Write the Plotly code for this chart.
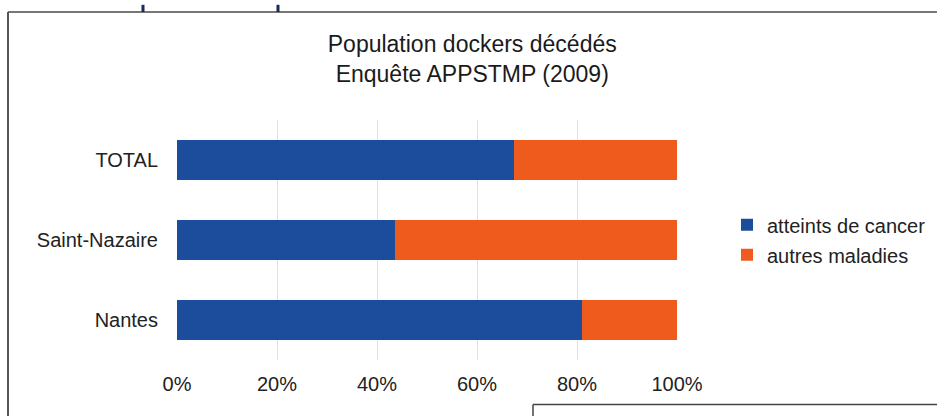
import plotly.graph_objects as go

# Share of deceased dockers by cause, per site (percent)
categories = ["Nantes", "Saint-Nazaire", "TOTAL"]
cancer = [81, 43.6, 67.4]
autres = [19, 56.4, 32.6]
series_names = ["atteints de cancer", "autres maladies"]
tick_vals = [0, 20, 40, 60, 80, 100]
tick_text = ["0%", "20%", "40%", "60%", "80%", "100%"]

BLUE = "#1c4c9c"
ORANGE = "#ee5b1d"
FONT = "Liberation Sans, Arial, sans-serif"

fig = go.Figure()
fig.add_trace(go.Bar(y=categories, x=cancer, name=series_names[0], orientation="h",
                     legendgroup="a", marker=dict(color=BLUE, line=dict(width=0))))
fig.add_trace(go.Bar(y=categories, x=autres, name=series_names[1], orientation="h",
                     legendgroup="b", marker=dict(color=ORANGE, line=dict(width=0))))

fig.update_layout(
    width=937, height=416,
    margin=dict(l=177, r=260, t=120, b=56, autoexpand=False),
    barmode="stack", bargap=0.5,
    paper_bgcolor="white", plot_bgcolor="white",
    font=dict(family=FONT, color="#222"),
    title=dict(text="Population dockers décédés<br>Enquête APPSTMP (2009)",
               x=0.504, xanchor="center", y=0.875, yanchor="top",
               font=dict(size=23, color="#1a1a1a", family=FONT)),
    xaxis=dict(range=[0, 100], tickvals=tick_vals, ticktext=tick_text,
               showgrid=True, gridcolor="#e2e2e2", gridwidth=1,
               zeroline=False, showline=False, ticks="",
               tickfont=dict(size=20, color="#222"), automargin=False,
               ticklabelstandoff=10),
    yaxis=dict(showgrid=False, showline=False, ticks="",
               tickfont=dict(size=20, color="#222"), automargin=False,
               ticklabelstandoff=18),
    legend=dict(x=1.100, xanchor="left", y=0.645, yanchor="top",
                font=dict(size=20, color="#222", family=FONT),
                traceorder="grouped", itemwidth=30, tracegroupgap=1,
                bgcolor="rgba(0,0,0,0)"),
    shapes=[
        # outer frame lines of the page
        dict(type="line", xref="paper", yref="paper", x0=-0.338, x1=1.52, y0=1.45, y1=1.45,
             line=dict(color="#777", width=2)),
        dict(type="line", xref="paper", yref="paper", x0=-0.338, x1=-0.338, y0=1.45, y1=-0.24,
             line=dict(color="#555", width=2)),
        # small marks on the top edge
        dict(type="line", xref="paper", yref="paper", x0=-0.068, x1=-0.068, y0=1.48, y1=1.45,
             line=dict(color="#1a2a5a", width=3)),
        dict(type="line", xref="paper", yref="paper", x0=0.202, x1=0.202, y0=1.48, y1=1.45,
             line=dict(color="#1a2a5a", width=3)),
        # lower-right box edge
        dict(type="line", xref="paper", yref="paper", x0=0.712, x1=1.52, y0=-0.185, y1=-0.185,
             line=dict(color="#444", width=1.5)),
        dict(type="line", xref="paper", yref="paper", x0=0.712, x1=0.712, y0=-0.185, y1=-0.24,
             line=dict(color="#444", width=1.5)),
    ],
)

fig.write_html("out.html")
